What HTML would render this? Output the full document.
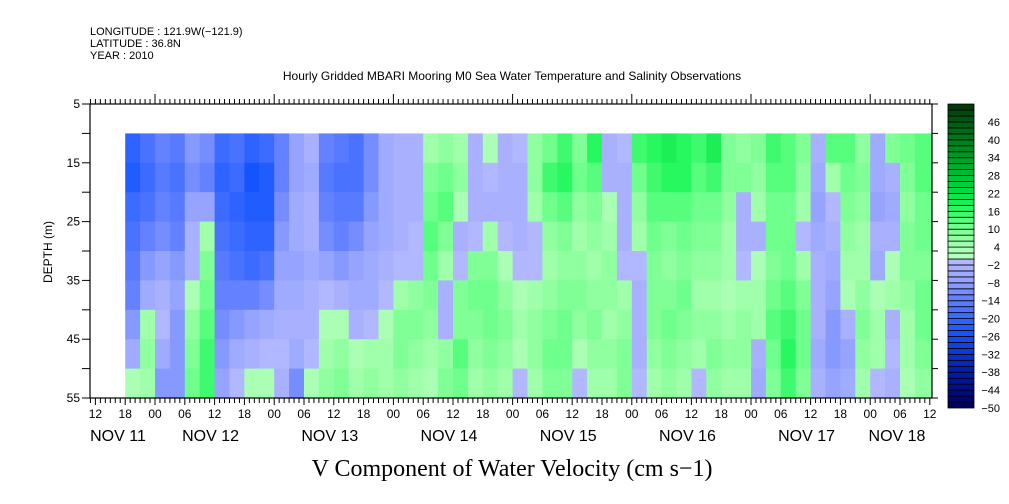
<!DOCTYPE html>
<html><head><meta charset="utf-8"><style>
body{margin:0;background:#fff;}
svg{display:block;font-family:"Liberation Sans",sans-serif;}
</style></head><body>
<svg id="chart" width="1009" height="504" viewBox="0 0 1009 504" xmlns="http://www.w3.org/2000/svg">
<g font-size="11" fill="#000">
<text x="90" y="35">LONGITUDE : 121.9W(−121.9)</text>
<text x="90" y="47">LATITUDE : 36.8N</text>
<text x="90" y="59">YEAR : 2010</text>
<text x="512" y="80" text-anchor="middle" font-size="12">Hourly Gridded MBARI Mooring M0 Sea Water Temperature and Salinity Observations</text>
</g>
<g id="cells"></g>
<g id="axes"></g>
<g id="cbar"></g>
<text x="52" y="252" transform="rotate(-90 52 252)" text-anchor="middle" font-size="12">DEPTH (m)</text>
<text x="512" y="476" text-anchor="middle" font-size="24" font-family="Liberation Serif, serif">V Component of Water Velocity (cm s−1)</text>
</svg>
<script>
// data: columns every 3 hours starting Nov 11 18:00; rows = depths 10..50 (5 m bands)
const startHour = 18; // hours after Nov 11 00:00
const stepHours = 3;
const depths = [10,15,20,25,30,35,40,45,50];
const cols = [
[-22,-24,-20,-18,-16,-14,-10,-6,2],
[-18,-20,-18,-14,-10,-6,4,6,4],
[-14,-16,-14,-12,-8,-4,-2,-6,-10],
[-16,-18,-16,-14,-10,-8,-10,-10,-10],
[-10,-12,-8,-4,-4,2,6,8,10],
[-12,-14,-8,4,8,10,12,14,14],
[-20,-22,-20,-18,-16,-14,-12,-10,-8],
[-18,-20,-22,-20,-18,-14,-10,-6,-2],
[-22,-26,-24,-22,-20,-14,-8,-4,2],
[-20,-24,-24,-22,-18,-12,-6,-2,2],
[-14,-14,-12,-10,-8,-6,-4,-2,-4],
[-8,-8,-6,-6,-8,-6,-4,-6,-12],
[-4,-6,-4,-4,-6,-4,-4,-2,2],
[-14,-16,-14,-12,-8,-2,2,4,6],
[-16,-18,-16,-14,-10,-4,2,6,8],
[-18,-18,-16,-12,-8,-6,-4,2,4],
[-12,-12,-10,-8,-6,-6,-2,4,6],
[-6,-6,-6,-6,-4,-2,2,4,4],
[-4,-4,-4,-4,-2,4,8,8,6],
[-4,-4,-4,-2,-2,6,8,6,4],
[4,8,10,12,10,8,6,4,2],
[6,10,12,8,4,-4,-4,6,8],
[4,6,2,-4,-2,8,8,12,10],
[-4,-4,-4,-2,8,10,8,6,4],
[2,-2,-4,4,8,10,10,8,6],
[-4,-4,-4,-2,2,6,8,6,4],
[-2,-4,-4,-4,-2,2,4,2,-2],
[6,6,4,-2,-2,4,6,6,4],
[10,14,10,6,4,6,8,10,8],
[14,16,12,8,6,8,10,10,8],
[8,10,6,4,6,8,6,2,-2],
[16,12,8,6,4,6,8,6,4],
[-4,-4,2,4,6,6,4,6,4],
[-2,-4,-4,-4,-2,4,6,8,8],
[14,10,6,4,-2,-4,-4,-4,-2],
[16,14,12,10,8,8,8,6,4],
[18,16,12,8,6,8,10,8,6],
[16,16,12,10,8,10,8,6,4],
[14,12,10,8,6,4,6,4,-2],
[18,14,10,8,6,4,6,8,6],
[8,8,6,4,4,2,4,6,4],
[6,8,-4,-4,-2,4,6,6,4],
[8,6,4,-4,2,4,4,-4,-6],
[14,12,10,10,8,10,12,10,8],
[12,12,10,10,10,12,14,16,14],
[8,6,4,-2,4,8,10,10,8],
[-4,-6,-8,-6,-4,-4,-4,-6,-4],
[12,4,-2,-4,-6,-8,-10,-10,-8],
[12,10,8,6,4,2,-4,-8,-6],
[6,8,6,4,4,6,8,6,4],
[-6,-6,-8,-4,-6,2,4,4,-2],
[8,-4,-6,-4,2,4,-4,-2,-4],
[10,8,6,8,8,6,4,4,2],
[12,12,10,10,8,10,10,8,6]
];
const depthTicks = [5,15,25,35,45,55];
const hourLabels = ["00","06","12","18"];
const dayLabels = ["NOV 11","NOV 12","NOV 13","NOV 14","NOV 15","NOV 16","NOV 17","NOV 18"];
const cbarLabels = [46,40,34,28,22,16,10,4,-2,-8,-14,-20,-26,-32,-38,-44,-50];

const NS="http://www.w3.org/2000/svg";
const X0=90,X1=932,Y0=104,Y1=398;
const day12x=155, dayW=119.2;
function xOfHour(h){return day12x+(h-24)*dayW/24;} // h = hours after Nov 11 00:00
function yOfDepth(d){return Y0+(d-5)*(Y1-Y0)/50;}
const keys=[[-50,[0,0,96]],[-38,[0,32,176]],[-26,[20,84,255]],[-14,[100,130,255]],[-8,[150,164,255]],[-2,[178,184,255]],
[0,[180,255,190]],[4,[160,255,170]],[10,[110,255,140]],[16,[40,248,96]],[22,[0,220,64]],[34,[0,150,36]],[46,[0,84,18]],[52,[0,48,8]]];
function color(v){
  const b=Math.floor(v/2)*2;
  let c;
  if(b<-50) c=keys[0][1]; else if(b>=52) c=keys[keys.length-1][1];
  else{
    for(let i=0;i<keys.length-1;i++){
      if(b>=keys[i][0]&&b<keys[i+1][0]){
        const t=(b-keys[i][0])/(keys[i+1][0]-keys[i][0]);
        if(keys[i][0]<0&&keys[i+1][0]>=0){c=keys[i][1];break;}
        c=keys[i][1].map((a,k)=>Math.round(a+(keys[i+1][1][k]-a)*t));break;
      }
    }
  }
  return "rgb("+c.join(",")+")";
}
function mk(tag,attrs,parent){const e=document.createElementNS(NS,tag);for(const k in attrs)e.setAttribute(k,attrs[k]);parent.appendChild(e);return e;}

const cells=document.getElementById("cells");
cols.forEach((col,i)=>{
  const h0=startHour+i*stepHours;
  const xa=xOfHour(h0), xb=(i===cols.length-1)?X1:xOfHour(h0+stepHours);
  col.forEach((v,j)=>{
    const ya=yOfDepth(depths[j]), yb=(j===depths.length-1)?Y1:yOfDepth(depths[j+1]);
    const r=mk("rect",{x:xa.toFixed(2),y:ya.toFixed(2),width:(xb-xa+0.6).toFixed(2),height:(yb-ya+0.6).toFixed(2),fill:color(v)},cells);
    
    
  });
});

const axes=document.getElementById("axes");
const fr=mk("rect",{x:X0,y:Y0,width:X1-X0,height:Y1-Y0,fill:"none",stroke:"#000","stroke-width":1.2},axes);


const hStart=Math.ceil((X0-day12x)*24/dayW+24), hEnd=Math.floor((X1-day12x)*24/dayW+24);
for(let h=hStart;h<=hEnd;h++){
  const x=xOfHour(h);
  const isDay=h%24===0, is6=h%6===0;
  mk("line",{x1:x,x2:x,y1:Y1,y2:Y1+(is6?7:5),stroke:"#000","stroke-width":1},axes);
  mk("line",{x1:x,x2:x,y1:Y0,y2:Y0-(isDay?10:5),stroke:"#000","stroke-width":1},axes);
  if(is6){
    const t=mk("text",{x:x,y:Y1+20,"text-anchor":"middle","font-size":12},axes);
    t.textContent=hourLabels[((h/6)%4+4)%4];
    
    
  }
}
dayLabels.forEach((lab,d)=>{
  let x=xOfHour(d*24+12)-4; x=Math.max(118,Math.min(897,x));
  const t=mk("text",{x:x,y:Y1+43,"text-anchor":"middle","font-size":16},axes);
  t.textContent=lab;
  
  
});
for(let d=5;d<=55;d+=5){
  const y=yOfDepth(d);
  mk("line",{x1:X0-8,x2:X0,y1:y,y2:y,stroke:"#000"},axes);
  mk("line",{x1:X1,x2:X1+6,y1:y,y2:y,stroke:"#000"},axes);
}
depthTicks.forEach(d=>{
  const t=mk("text",{x:X0-10,y:yOfDepth(d)+4,"text-anchor":"end","font-size":12},axes);
  t.textContent=d;
  
  
});
const cb=document.getElementById("cbar");
const CX=948,CW=26,CB=408,BH=5.96;
for(let k=0;k<51;k++){
  const v=-50+2*k;
  const r=mk("rect",{x:CX,y:(CB-(k+1)*BH).toFixed(2),width:CW,height:BH.toFixed(2),fill:color(v),stroke:"#000","stroke-width":0.8},cb);
  
  
}
cbarLabels.forEach(v=>{
  const y=CB-(v+50)/2*BH;
  const t=mk("text",{x:1000,y:y+4,"text-anchor":"end","font-size":11},cb);
  t.textContent=v<0?"−"+(-v):v;
  
  
});
</script>
</body></html>
